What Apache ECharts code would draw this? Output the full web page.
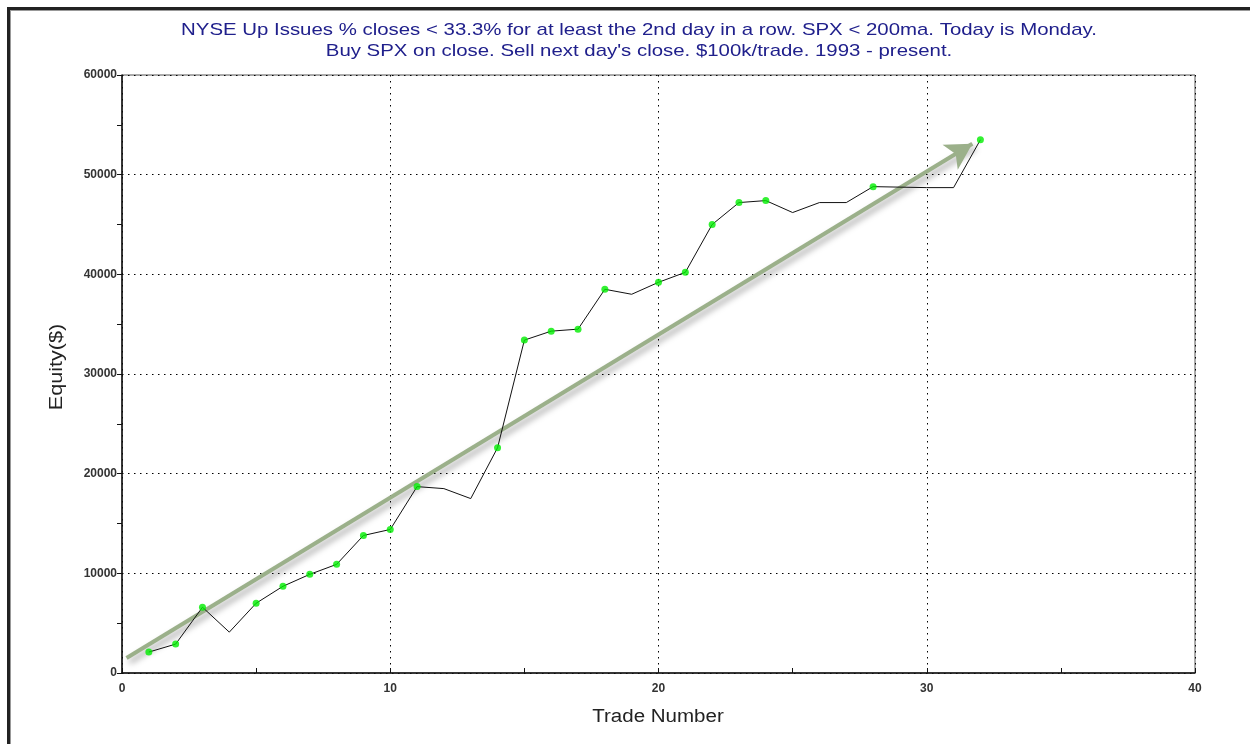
<!DOCTYPE html>
<html>
<head>
<meta charset="utf-8">
<script src="https://cdn.jsdelivr.net/npm/echarts@6/dist/echarts.min.js"></script>
<style>
html,body{margin:0;padding:0;background:#fff;}
#chart{width:1250px;height:744px;position:relative;}
#frame{position:absolute;left:7px;top:7px;right:-10px;bottom:-10px;border-left:3px solid #222;border-top:3px solid #222;pointer-events:none;}
#frame2{position:absolute;left:10px;top:10px;right:-10px;bottom:-10px;border-left:1px solid #999;border-top:1px solid #999;pointer-events:none;}
</style>
</head>
<body>
<div id="chart"></div>
<div id="frame"></div>
<div id="frame2"></div>
<script>
var titleLines = [
  "NYSE Up Issues % closes < 33.3% for at least the 2nd day in a row. SPX < 200ma. Today is Monday.",
  "Buy SPX on close. Sell next day's close. $100k/trade. 1993 - present."
];
var xAxisName = "Trade Number";
var yAxisName = "Equity($)";
var tradeNumbers = [1,2,3,4,5,6,7,8,9,10,11,12,13,14,15,16,17,18,19,20,21,22,23,24,25,26,27,28,29,30,31,32];
var equity = [2100,2900,6600,4100,7000,8700,9900,10900,13800,14400,18700,18500,17500,22600,33400,34300,34500,38500,38000,39200,40200,45000,47200,47400,46200,47200,47200,48800,48750,48700,48700,53500];
var arrowStart = [0.17, 1500];
var arrowEnd = [31.7, 53100];
var xTicks = {min:0, max:40, interval:10};
var yTicks = {min:0, max:60000, interval:10000};

var lineData = tradeNumbers.map(function(t,i){return [t, equity[i]];});
var highs = [];
var runMax = -Infinity;
tradeNumbers.forEach(function(t,i){
  if (equity[i] > runMax) { highs.push([t, equity[i]]); runMax = equity[i]; }
});

var chart = echarts.init(document.getElementById('chart'), null, {renderer:'canvas'});
var font = 'Liberation Sans, Arial, sans-serif';
chart.setOption({
  animation:false,
  backgroundColor:'#fff',
  grid:{left:122, top:75, right:55, bottom:71, show:true, borderColor:'#555', borderWidth:1, backgroundColor:'transparent'},
  graphic:[
    {type:'text', x:639, y:30, scaleX:1.2, style:{text:titleLines[0], textAlign:'center', textVerticalAlign:'middle', font:'17px '+font, fill:'#20208c'}},
    {type:'text', x:639, y:51, scaleX:1.2, style:{text:titleLines[1], textAlign:'center', textVerticalAlign:'middle', font:'17px '+font, fill:'#20208c'}},
    {type:'text', x:658, y:717, scaleX:1.14, style:{text:xAxisName, textAlign:'center', textVerticalAlign:'middle', font:'18px '+font, fill:'#222'}},
    {type:'text', x:57, y:367, rotation:Math.PI/2, scaleX:1.2, style:{text:yAxisName, textAlign:'center', textVerticalAlign:'middle', font:'18px '+font, fill:'#222'}}
  ],
  xAxis:{
    type:'value', min:xTicks.min, max:xTicks.max, interval:xTicks.interval,
    axisLine:{show:true, onZero:false, lineStyle:{color:'#111', width:1.5}},
    axisTick:{show:true, inside:true, length:5, lineStyle:{color:'#111'}},
    minorTick:{show:true, splitNumber:2, length:5, lineStyle:{color:'#111'}},
    axisLabel:{fontFamily:font, fontSize:12, fontWeight:'bold', color:'#333', margin:10},
    splitLine:{show:true, lineStyle:{color:'#000', width:1, type:[1.5,4.5]}}
  },
  yAxis:{
    type:'value', min:yTicks.min, max:yTicks.max, interval:yTicks.interval,
    axisLine:{show:true, onZero:false, lineStyle:{color:'#111', width:1.5}},
    axisTick:{show:true, length:5, lineStyle:{color:'#111'}},
    minorTick:{show:true, splitNumber:2, length:5, lineStyle:{color:'#111'}},
    axisLabel:{fontFamily:font, fontSize:12, fontWeight:'bold', color:'#333', margin:5,
      formatter:function(v){return String(v);}},
    splitLine:{show:true, lineStyle:{color:'#000', width:1, type:[1.5,4.5]}}
  },
  series:[
    {
      type:'line', data:lineData, symbol:'none', z:3,
      lineStyle:{color:'#111', width:1},
      markLine:{
        silent:true, symbol:['none','arrow'], symbolSize:[22,26], z:2,
        label:{show:false},
        lineStyle:{color:'#9bb08a', width:4, type:'solid', opacity:1,
          shadowBlur:6, shadowColor:'rgba(0,0,0,0.35)', shadowOffsetX:3, shadowOffsetY:4},
        emphasis:{disabled:true},
        data:[[{coord:arrowStart},{coord:arrowEnd}]]
      }
    },
    {
      type:'scatter', data:highs, symbol:'circle', symbolSize:7, z:4,
      itemStyle:{color:'#00ee00'}
    }
  ]
});
</script>
</body>
</html>
